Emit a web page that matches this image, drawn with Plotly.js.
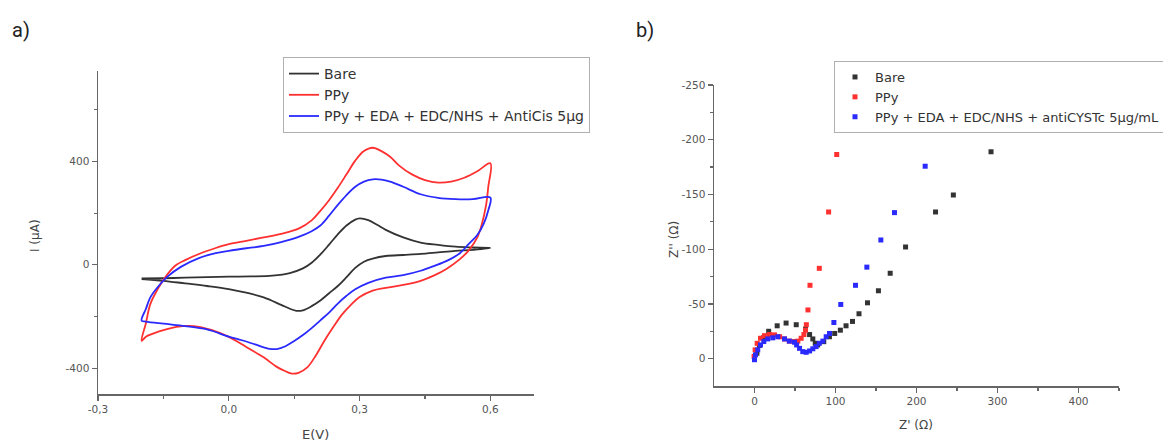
<!DOCTYPE html>
<html>
<head>
<meta charset="utf-8">
<script src="https://cdn.plot.ly/plotly-3.0.1.min.js"></script>
<style>html,body{margin:0;padding:0;background:#fff;}#chart{width:1163px;height:443px;}</style>
</head>
<body>
<div id="chart"></div>
<script>
// ---- Panel a) cyclic voltammetry ----
const bareE = [-0.2,-0.15,-0.1,-0.05,0.0,0.05,0.1,0.14,0.17,0.19,0.21,0.23,0.25,0.27,0.29,0.30,0.32,0.34,0.36,0.40,0.44,0.48,0.52,0.56,0.6,
               0.56,0.52,0.48,0.44,0.40,0.36,0.33,0.31,0.29,0.27,0.25,0.23,0.21,0.19,0.17,0.155,0.14,0.12,0.08,0.04,0.0,-0.05,-0.1,-0.15,-0.2];
const bareI = [-53,-52,-50,-48,-46,-45,-42,-32,-14,8,40,78,118,152,175,180,173,155,135,106,86,77,70,67,65,
               58,54,48,42,38,34,24,12,-12,-48,-82,-110,-138,-160,-176,-178,-170,-155,-126,-108,-94,-82,-72,-62,-55];

const ppyE = [-0.2,-0.19,-0.18,-0.16,-0.14,-0.12,-0.1,-0.07,-0.03,0.0,0.04,0.08,0.12,0.16,0.19,0.21,0.23,0.25,0.27,0.29,0.31,0.33,0.35,0.37,0.39,0.42,0.45,0.48,0.51,0.54,0.57,0.6,
              0.595,0.59,0.58,0.57,0.55,0.53,0.5,0.47,0.44,0.40,0.36,0.33,0.30,0.28,0.26,0.24,0.22,0.20,0.18,0.16,0.145,0.13,0.11,0.08,0.04,0.0,-0.04,-0.08,-0.12,-0.16,-0.19,-0.2];
const ppyI = [-294,-225,-152,-85,-35,0,18,41,65,80,93,106,120,140,172,209,250,298,350,403,440,453,440,418,385,350,328,318,322,337,362,393,
              300,230,155,106,55,22,-15,-42,-62,-78,-89,-100,-125,-155,-192,-240,-292,-350,-397,-418,-421,-412,-395,-358,-318,-279,-252,-237,-240,-258,-278,-294];

const antiE = [-0.2,-0.19,-0.18,-0.16,-0.14,-0.11,-0.07,-0.03,0.0,0.04,0.08,0.12,0.16,0.19,0.21,0.23,0.25,0.27,0.29,0.31,0.33,0.35,0.37,0.40,0.44,0.48,0.52,0.56,0.6,
               0.595,0.585,0.57,0.55,0.53,0.5,0.47,0.44,0.40,0.36,0.32,0.29,0.27,0.25,0.23,0.21,0.19,0.17,0.15,0.13,0.11,0.09,0.06,0.03,0.0,-0.05,-0.1,-0.15,-0.19,-0.2];
const antiI = [-216,-170,-126,-80,-45,-8,25,45,54,64,73,88,108,130,152,190,232,270,302,322,331,330,322,302,273,259,254,254,260,
               210,160,115,80,45,15,-5,-23,-40,-50,-70,-95,-120,-150,-185,-215,-245,-272,-295,-315,-326,-324,-308,-292,-278,-250,-237,-228,-220,-216];

const cvNames = ["Bare", "PPy", "PPy + EDA + EDC/NHS + AntiCis 5μg"];
const cvXTicks = [-0.3, 0.0, 0.3, 0.6];
const cvXTickText = ["-0,3", "0,0", "0,3", "0,6"];
const cvYTicks = [-400, 0, 400];
const cvYTickText = ["-400", "0", "400"];

// ---- Panel b) impedance (Nyquist) ----
const bareZre = [3,6,11,17.5,28,39,51.5,63,68,72,75,78,85.5,92.5,99,106,113,121,129,139.5,153,167.5,186.5,223.5,245.5,292];
const bareZim = [-5,-12,-19,-25,-30,-32.5,-31,-27,-22,-18,-14,-12.5,-15.5,-20,-23,-26,-30,-34,-41,-51,-62,-78,-102,-134,-149.5,-189];
const ppyZre = [-0.5,0.8,3.3,7.4,12.3,18.5,24.7,31,37,43,49,53.5,57.6,61,63,64,66,68.5,80,91.5,101.5];
const ppyZim = [-2,-8,-14,-18.6,-21,-22,-21.7,-20,-18,-16,-15.6,-16,-18.6,-22,-26,-31,-44.5,-67,-82.5,-134,-186.5];
const antiZre = [0,1.2,4,7.4,11.5,16.4,22.6,28.8,37,43,49.4,52,55.6,59.6,63.8,68,72,76,80,84.4,88.5,92.6,98,106.5,124.7,138.7,156,172.8,210.7];
const antiZim = [1,-3.4,-8,-12.5,-15.6,-18,-19,-20,-18,-16,-15,-12.5,-9.4,-6.4,-5.8,-7,-9,-11,-14,-16,-20,-23,-33,-49.5,-67,-83.6,-108.4,-133.4,-175.8];

const eisNames = ["Bare", "PPy", "PPy + EDA + EDC/NHS + antiCYSTc 5μg/mL"];
const eisXTicks = [0, 100, 200, 300, 400];
const eisXTickText = ["0", "100", "200", "300", "400"];
const eisYTicks = [-250, -200, -150, -100, -50, 0];
const eisYTickText = ["-250", "-200", "-150", "-100", "-50", "0"];

const colors = ["#333333", "#ff3030", "#2a2aff"];
const W = 1163, H = 443;
const FONT = "DejaVu Sans, Liberation Sans, Arial, sans-serif";

const lineStyle = c => ({color: c, width: 1.8, shape: "spline", smoothing: 1});
const traces = [
  {x: bareE, y: bareI, name: cvNames[0], type: "scatter", mode: "lines", line: lineStyle(colors[0]), xaxis: "x", yaxis: "y", legend: "legend"},
  {x: ppyE, y: ppyI, name: cvNames[1], type: "scatter", mode: "lines", line: lineStyle(colors[1]), xaxis: "x", yaxis: "y", legend: "legend"},
  {x: antiE, y: antiI, name: cvNames[2], type: "scatter", mode: "lines", line: lineStyle(colors[2]), xaxis: "x", yaxis: "y", legend: "legend"},
  {x: bareZre, y: bareZim, name: eisNames[0], type: "scatter", mode: "markers", marker: {color: colors[0], size: 5, symbol: "square"}, xaxis: "x2", yaxis: "y2", legend: "legend2"},
  {x: ppyZre, y: ppyZim, name: eisNames[1], type: "scatter", mode: "markers", marker: {color: colors[1], size: 5, symbol: "square"}, xaxis: "x2", yaxis: "y2", legend: "legend2"},
  {x: antiZre, y: antiZim, name: eisNames[2], type: "scatter", mode: "markers", marker: {color: colors[2], size: 5, symbol: "square"}, xaxis: "x2", yaxis: "y2", legend: "legend2"}
];

const axisCommon = {
  showline: true, linecolor: "#666", linewidth: 1.5, mirror: false,
  ticks: "outside", ticklen: 5, tickwidth: 1.2, tickcolor: "#666",
  showgrid: false, zeroline: false, fixedrange: true,
  tickfont: {family: FONT, size: 10.5, color: "#555"}
};
const minorCommon = {ticks: "outside", ticklen: 3, tickwidth: 1.2, tickcolor: "#666", showgrid: false, tickmode: "array"};

const px = v => v / W;
const py = v => 1 - v / H;

const layout = {
  width: W, height: H,
  margin: {l: 0, r: 0, t: 0, b: 0, autoexpand: false},
  paper_bgcolor: "#ffffff", plot_bgcolor: "#ffffff",
  font: {family: FONT, color: "#333"},
  xaxis: Object.assign({}, axisCommon, {
    domain: [px(98), px(534)], range: [-0.3, 0.7], anchor: "y",
    tickmode: "array", tickvals: cvXTicks, ticktext: cvXTickText,
    minor: Object.assign({}, minorCommon, {tickvals: [-0.15, 0.15, 0.45]})
  }),
  yaxis: Object.assign({}, axisCommon, {
    domain: [py(394), py(71)], range: [-500, 750], anchor: "x",
    tickmode: "array", tickvals: cvYTicks, ticktext: cvYTickText,
    minor: Object.assign({}, minorCommon, {tickvals: [-200, 200, 600]})
  }),
  xaxis2: Object.assign({}, axisCommon, {
    domain: [px(714), px(1119)], range: [-50, 450], anchor: "y2",
    tickmode: "array", tickvals: eisXTicks, ticktext: eisXTickText,
    minor: Object.assign({}, minorCommon, {tickvals: [50, 150, 250, 350, 450]})
  }),
  yaxis2: Object.assign({}, axisCommon, {
    domain: [py(386), py(85)], range: [25, -250], anchor: "x2",
    tickmode: "array", tickvals: eisYTicks, ticktext: eisYTickText,
    minor: Object.assign({}, minorCommon, {tickvals: [-225, -175, -125, -75, -25]})
  }),
  legend: {
    x: px(283), y: py(57), xanchor: "left", yanchor: "top",
    bgcolor: "#ffffff", bordercolor: "#b0b0b0", borderwidth: 1,
    font: {family: FONT, size: 14, color: "#333"},
    tracegroupgap: 0, itemclick: false, itemdoubleclick: false
  },
  legend2: {
    x: px(834), y: py(61), xanchor: "left", yanchor: "top",
    bgcolor: "#ffffff", bordercolor: "#b0b0b0", borderwidth: 1,
    font: {family: FONT, size: 13, color: "#333"},
    tracegroupgap: 0, itemclick: false, itemdoubleclick: false
  },
  annotations: [
    {text: "a)", x: px(10), y: py(30), xref: "paper", yref: "paper", xanchor: "left", yanchor: "middle", showarrow: false, font: {family: "Roboto, sans-serif", size: 20, color: "#222"}},
    {text: "b)", x: px(634), y: py(30), xref: "paper", yref: "paper", xanchor: "left", yanchor: "middle", showarrow: false, font: {family: "Roboto, sans-serif", size: 20, color: "#222"}},
    {text: "I (μA)", x: px(35), y: py(236), xref: "paper", yref: "paper", xanchor: "center", yanchor: "middle", textangle: -90, showarrow: false, font: {family: FONT, size: 12, color: "#444"}},
    {text: "E(V)", x: px(315), y: py(434), xref: "paper", yref: "paper", xanchor: "center", yanchor: "middle", showarrow: false, font: {family: FONT, size: 13, color: "#444"}},
    {text: "Z'' (Ω)", x: px(674), y: py(240), xref: "paper", yref: "paper", xanchor: "center", yanchor: "middle", textangle: -90, showarrow: false, font: {family: FONT, size: 12, color: "#444"}},
    {text: "Z' (Ω)", x: px(916), y: py(425), xref: "paper", yref: "paper", xanchor: "center", yanchor: "middle", showarrow: false, font: {family: FONT, size: 12, color: "#444"}}
  ]
};

Plotly.newPlot("chart", traces, layout, {displayModeBar: false, staticPlot: true});
</script>
</body>
</html>
